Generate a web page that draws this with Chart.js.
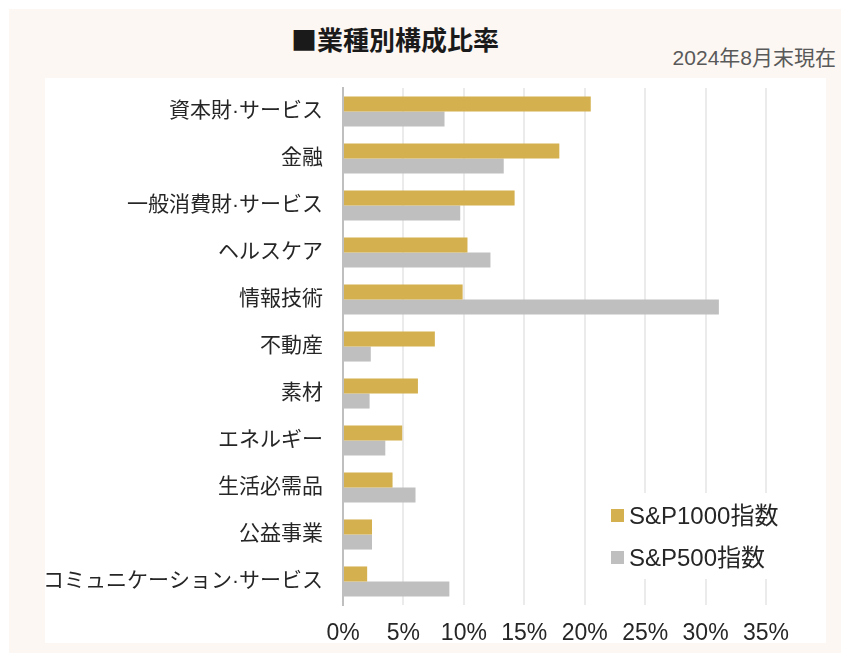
<!DOCTYPE html>
<html>
<head>
<meta charset="utf-8">
<script src="https://cdn.jsdelivr.net/npm/chart.js@4.4.1/dist/chart.umd.min.js"></script>
<style>
  body { margin: 0; background: #ffffff; font-family: "Liberation Sans", "Noto Sans CJK JP", sans-serif; }
  #wrap { position: relative; width: 847px; height: 653px; overflow: hidden; }
  #frame { position: absolute; left: 9px; top: 9px; width: 832px; height: 644px; background: #fcf7f3; }
  #plot { position: absolute; left: 45px; top: 78px; width: 781px; height: 565px; background: #ffffff; }
  #title { position: absolute; left: 291px; top: 21px; font-size: 26px; font-weight: bold; color: #1a1a1a;
           font-family: "Noto Sans CJK JP", sans-serif; line-height: 36px; white-space: nowrap; }
  #asof { position: absolute; right: 11px; top: 44px; font-size: 21px; color: #595959; line-height: 28px; white-space: nowrap; }
  canvas { position: absolute; left: 0; top: 0; }
</style>
</head>
<body>
<div id="wrap">
  <div id="frame"></div>
  <div id="plot"></div>
  <div id="title">■業種別構成比率</div>
  <div id="asof">2024年8月末現在</div>
  <canvas id="sectorChart" width="847" height="653"></canvas>
</div>
<script>
// Sector labels (top to bottom)
const sectors = [
  "資本財·サービス", "金融", "一般消費財·サービス", "ヘルスケア", "情報技術",
  "不動産", "素材", "エネルギー", "生活必需品", "公益事業", "コミュニケーション·サービス"
];
// Weights in %
const sp1000 = [20.5, 17.9, 14.2, 10.3, 9.9, 7.6, 6.2, 4.9, 4.1, 2.4, 2.0];
const sp500  = [8.4, 13.3, 9.7, 12.2, 31.1, 2.3, 2.2, 3.5, 6.0, 2.4, 8.8];
const seriesNames = ["S&P1000指数", "S&P500指数"];
const seriesColors = ["#d4b04f", "#bfbfbf"];
const xTicksMax = 35;
const xTickStep = 5;

const FONT = '"Liberation Sans", "Noto Sans CJK JP", sans-serif';

// Legend drawn inside the plot, lower right, on a white patch over the grid
const insideLegend = {
  id: 'insideLegend',
  afterDraw(chart) {
    const { ctx, chartArea } = chart;
    const left = chartArea.right - 166;
    const top = chartArea.bottom - 112;
    ctx.save();
    ctx.fillStyle = '#ffffff';
    ctx.fillRect(left, top, 190, 86);
    ctx.font = '24px ' + FONT;
    ctx.textBaseline = 'middle';
    chart.data.datasets.forEach((ds, i) => {
      const y = chartArea.bottom - 89 + i * 42;
      ctx.fillStyle = ds.backgroundColor;
      ctx.fillRect(left + 11, y - 7, 13, 13);
      ctx.fillStyle = '#262626';
      ctx.fillText(ds.label, left + 29, y + 1);
    });
    ctx.restore();
  }
};

new Chart(document.getElementById('sectorChart').getContext('2d'), {
  type: 'bar',
  data: {
    labels: sectors,
    datasets: [
      { label: seriesNames[0], data: sp1000, backgroundColor: seriesColors[0] },
      { label: seriesNames[1], data: sp500, backgroundColor: seriesColors[1] }
    ]
  },
  options: {
    indexAxis: 'y',
    responsive: false,
    animation: false,
    categoryPercentage: 0.64,
    barPercentage: 1.0,
    layout: { padding: { left: 0, top: 88, right: 81, bottom: 0 } },
    plugins: {
      legend: { display: false },
      tooltip: { enabled: false }
    },
    scales: {
      x: {
        min: 0,
        max: xTicksMax,
        ticks: {
          stepSize: xTickStep,
          padding: 15,
          color: '#262626',
          font: { family: FONT, size: 23 },
          callback: v => v + '%'
        },
        grid: { color: '#ebebeb', lineWidth: 2, drawTicks: false },
        border: { display: false },
        afterFit: scale => { scale.height = 48; }
      },
      y: {
        ticks: {
          padding: 20,
          color: '#262626',
          font: { family: FONT, size: 21 }
        },
        grid: { display: false, drawTicks: false },
        border: { color: '#bfbfbf', width: 2 },
        afterFit: scale => { scale.width = 343; }
      }
    }
  },
  plugins: [insideLegend]
});
</script>
</body>
</html>
